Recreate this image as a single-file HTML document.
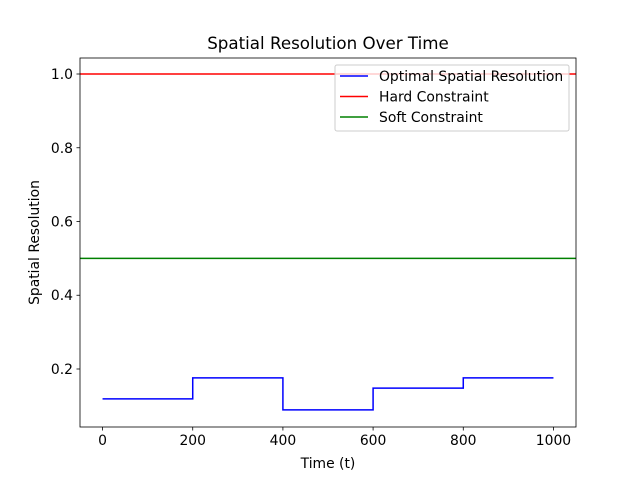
<!DOCTYPE html>
<html><head><meta charset="utf-8"><style>
body{margin:0;background:#fff;font-family:"DejaVu Sans","Liberation Sans",sans-serif;}
</style></head><body>
<svg id="chart" width="640" height="480" xmlns="http://www.w3.org/2000/svg" font-family="DejaVu Sans, Liberation Sans, sans-serif">
<rect width="640" height="480" fill="#fff"/>
<g id="plot"></g>
</svg>
<script>
const segStarts = [0, 200, 400, 600, 800];
const segEnds = [200, 400, 600, 800, 1000];
const segValues = [0.119, 0.176, 0.089, 0.148, 0.176];
const hardConstraint = [1.0];
const softConstraint = [0.5];
const xTicks = [0, 200, 400, 600, 800, 1000];
const yTicks = [0.2, 0.4, 0.6, 0.8, 1.0];
const yTickLabels = ["0.2", "0.4", "0.6", "0.8", "1.0"];

const L=80,R=576,T=58,B=427;
const xMin=-50,xMax=1050,yMin=0.0427,yMax=1.0434;
const X=v=>L+(v-xMin)/(xMax-xMin)*(R-L);
const Y=v=>B-(v-yMin)/(yMax-yMin)*(B-T);
const NS="http://www.w3.org/2000/svg";
const g=document.getElementById('plot');
function mk(tag,attrs,parent){const e=document.createElementNS(NS,tag);for(const k in attrs)e.setAttribute(k,attrs[k]);(parent||g).appendChild(e);return e;}
function txt(s,attrs){const e=mk('text',attrs);e.textContent=s;return e;}

let d='';
segStarts.forEach((s,i)=>{d+=(i===0?'M':'L')+X(s)+','+Y(segValues[i])+'L'+X(segEnds[i])+','+Y(segValues[i]);});
let p=mk('path',{d:d,fill:'none',stroke:'#0000ff','stroke-width':1.5});


let h=mk('line',{x1:L,x2:R,y1:Y(hardConstraint[0]),y2:Y(hardConstraint[0]),stroke:'#ff0000','stroke-width':1.5});


let s=mk('line',{x1:L,x2:R,y1:Y(softConstraint[0]),y2:Y(softConstraint[0]),stroke:'#008000','stroke-width':1.5});



let fr=mk('rect',{x:L,y:T,width:R-L,height:B-T,fill:'none',stroke:'#000','stroke-width':0.8});



xTicks.forEach(v=>{const x=X(v);mk('line',{x1:x,x2:x,y1:B,y2:B+3.5,stroke:'#000','stroke-width':0.8});
 let t=txt(String(v),{x:x,y:B+18,'font-size':13.9,'text-anchor':'middle'});
 
 });
yTicks.forEach((v,i)=>{const y=Y(v);mk('line',{x1:L-3.5,x2:L,y1:y,y2:y,stroke:'#000','stroke-width':0.8});
 let t=txt(yTickLabels[i],{x:L-7,y:y+5,'font-size':13.9,'text-anchor':'end'});
 
 });

let tt=txt('Spatial Resolution Over Time',{x:(L+R)/2,y:49,'font-size':16.7,'text-anchor':'middle'});


let xt=txt('Time (t)',{x:(L+R)/2,y:468,'font-size':13.9,'text-anchor':'middle'});


let yt=txt('Spatial Resolution',{x:0,y:0,'font-size':13.9,'text-anchor':'middle',transform:'translate(39,'+((T+B)/2)+') rotate(-90)'});



let lg=mk('rect',{x:335,y:65,width:234,height:66,rx:2,fill:'#fff','fill-opacity':0.8,stroke:'#ccc','stroke-width':1});


const legNames=['Optimal Spatial Resolution','Hard Constraint','Soft Constraint'];
const legColors=['#0000ff','#ff0000','#008000'];
legNames.forEach((n,i)=>{const y=76+i*20.5;
 mk('line',{x1:340,x2:368,y1:y,y2:y,stroke:legColors[i],'stroke-width':1.5});
 let t=txt(n,{x:379,y:y+5,'font-size':13.9});
 
 });
</script>
</body></html>
